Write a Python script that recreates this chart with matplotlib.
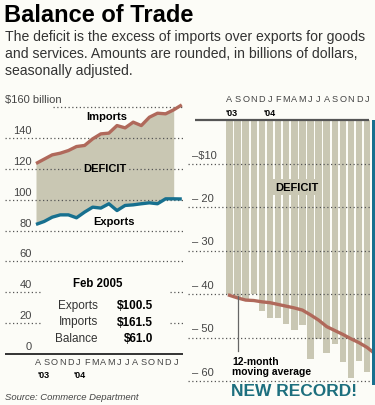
import matplotlib
matplotlib.use('Agg')
import matplotlib.pyplot as plt
from matplotlib.patches import Rectangle

plt.rcParams['font.family'] = ['Liberation Sans', 'DejaVu Sans']

# data, Aug 2003 .. Feb 2005 (billions of dollars)
months = list("ASONDJFMAMJJASONDJ")
imports = [123.5, 126.3, 129.1, 130.2, 131.9, 134.5, 135.2, 139.5, 142.7, 143.2,
           148.1, 146.6, 150.3, 148.1, 153.5, 156.1, 155.7, 158.3, 161.5]
exports = [84.0, 85.9, 88.7, 90.2, 90.2, 88.3, 92.0, 95.2, 94.6, 97.4,
           93.0, 96.3, 96.7, 97.4, 98.0, 97.4, 100.6, 100.6, 100.5]
deficit = [-40.0, -41.0, -41.5, -40.0, -43.8, -45.6, -45.6, -46.8, -48.2, -47.1,
           -54.9, -50.3, -53.6, -51.5, -55.7, -59.2, -55.5, -58.0, -61.0]
moving_avg = [-40.3, -40.9, -41.4, -41.5, -41.8, -42.0, -42.4, -42.8, -43.2, -43.7,
              -44.8, -46.0, -47.5, -48.4, -49.3, -50.3, -51.2, -52.3, -53.8]
left_ticks = [160, 140, 120, 100, 80, 60, 40, 20, 0]
right_ticks = [-10, -20, -30, -40, -50, -60]

W, H = 375, 406
BG = '#fcfcf7'
FILL = '#c9c7b3'
RED = '#b0695b'
TEAL = '#17708f'
GRID = '#555555'
DOT = (0, (1, 2))


def fx(px):
    return px / W


def fy(py):
    return 1 - py / H


fig = plt.figure(figsize=(W / 100, H / 100), dpi=100)
fig.patch.set_facecolor(BG)

# header
fig.text(fx(4), fy(15), "Balance of Trade", fontsize=17, fontweight='bold', va='center')
sub = ["The deficit is the excess of imports over exports for goods",
       "and services. Amounts are rounded, in billions of dollars,",
       "seasonally adjusted."]
for k, line in enumerate(sub):
    fig.text(fx(5), fy(37 + k * 17), line, fontsize=10.1, color='#333333', va='center')
fig.text(fx(5), fy(398), "Source: Commerce Department", fontsize=6.8,
         style='italic', color='#444444', va='center')

# ---- left chart: imports and exports ----
def lx(px):
    return (px - 36) / 8.1


def lv(py):
    return (355 - py) / 1.5425


ax = fig.add_axes([fx(0), fy(390), fx(190), fy(95) - fy(390)])
ax.set_xlim(lx(0), lx(190))
ax.set_ylim(lv(390), lv(95))
ax.axis('off')

n = len(imports)
xs = list(range(n))
ax.fill_between(xs[:18], exports[:18], imports[:18], color=FILL, lw=0, zorder=1)
for v in left_ticks[:-1]:
    x0 = lx(53) if v == 160 else lx(5)
    ax.hlines(v, x0, lx(183), colors=GRID, lw=0.9, linestyles=DOT, zorder=2)
ax.hlines(0, lx(5), lx(183), colors='#333333', lw=1.4, zorder=2)
ax.plot(xs, imports, color=RED, lw=2.4, zorder=4, solid_capstyle='butt')
ax.plot(xs, exports, color=TEAL, lw=2.4, zorder=4, solid_capstyle='butt')

for v in left_ticks:
    if v == 160:
        ax.text(lx(5), v + lv(0) - lv(8), "$160 billion", fontsize=8, color='#444444',
                ha='left', va='center', clip_on=False)
    else:
        ax.text(lx(32), v + lv(0) - lv(8), str(v), fontsize=8, color='#444444',
                ha='right', va='center', clip_on=False)

ax.text(lx(107), lv(117), "Imports", fontsize=8, fontweight='bold', ha='center', va='center', zorder=5)
ax.text(lx(105), lv(169), "DEFICIT", fontsize=8, fontweight='bold', ha='center', va='center',
        zorder=5, bbox=dict(facecolor=FILL, edgecolor='none', pad=1.5))
ax.text(lx(114), lv(222), "Exports", fontsize=8, fontweight='bold', ha='center', va='center', zorder=5)

# Feb 2005 box
ax.add_patch(Rectangle((lx(42), lv(349)), lx(170) - lx(42), lv(274) - lv(349),
                       facecolor=BG, edgecolor='none', zorder=3))
ax.text(lx(98), lv(284), "Feb 2005", fontsize=8.3, fontweight='bold', ha='center', va='center', zorder=5)
rows = [("Exports", exports[-1]), ("Imports", imports[-1]), ("Balance", imports[-1] - exports[-1])]
for k, (name, val) in enumerate(rows):
    yy = lv(306 + k * 16.5)
    ax.text(lx(98), yy, name, fontsize=8.5, color='#333333', ha='right', va='center', zorder=5)
    ax.text(lx(153), yy, f"${val:.1f}", fontsize=8.5, fontweight='bold', ha='right', va='center', zorder=5)

for i, m in enumerate(months):
    ax.text(i + 0.25, lv(363), m, fontsize=6.6, color='#444444', ha='center', va='center', clip_on=False)
ax.text(lx(38), lv(376), "'03", fontsize=6.5, fontweight='bold', ha='left', va='center')
ax.text(lx(73), lv(376), "'04", fontsize=6.5, fontweight='bold', ha='left', va='center')

# ---- right chart: monthly deficit ----
def rx(px):
    return (px - 229.5) / 8.1


def rv(py):
    return -(py - 121) / 4.35


ax2 = fig.add_axes([fx(185), fy(395), fx(375) - fx(185), fy(90) - fy(395)])
ax2.set_xlim(rx(185), rx(375))
ax2.set_ylim(rv(395), rv(90))
ax2.axis('off')

colors = [FILL] * (n - 1) + [TEAL]
ax2.bar(xs, deficit, width=0.8, color=colors, lw=0, zorder=1)
for v in right_ticks:
    ax2.hlines(v, rx(188), rx(375), colors=GRID, lw=0.9, linestyles=DOT, zorder=2)
ax2.hlines(0, rx(195), rx(369), colors='#555555', lw=1.6, zorder=3)
ax2.plot(xs, moving_avg, color=RED, lw=2.4, zorder=4)
# keep the record bar above the average line
ax2.bar(xs[-1], deficit[-1], width=0.8, color=TEAL, lw=0, zorder=5)

for v in right_ticks:
    lab = "\u2013$10" if v == -10 else f"\u2013 {-v}"
    ax2.text(rx(192), v + rv(121) - rv(130), lab, fontsize=8, color='#444444',
             ha='left', va='center', zorder=6)

for i, m in enumerate(months):
    ax2.text(i, rv(100), m, fontsize=6.6, color='#444444', ha='center', va='center')
ax2.text(rx(226), rv(113), "'03", fontsize=6.5, fontweight='bold', ha='left', va='center')
ax2.text(rx(264), rv(113), "'04", fontsize=6.5, fontweight='bold', ha='left', va='center')

ax2.text(rx(297), rv(188), "DEFICIT", fontsize=8, fontweight='bold', ha='center', va='center',
         zorder=6, bbox=dict(facecolor=FILL, edgecolor='none', pad=2))
ax2.plot([rx(238), rx(238)], [rv(297), rv(352)], color='#666666', lw=0.9, zorder=6)
ax2.text(rx(232), rv(357), "12-month\nmoving average", fontsize=7.5, fontweight='bold',
         ha='left', va='top', linespacing=1.05, zorder=6)
ax2.text(rx(294), rv(392), "NEW RECORD!", fontsize=12.5, fontweight='bold', color='#1d6f7e',
         ha='center', va='center', zorder=6, clip_on=False)

fig.savefig('out.png', dpi=100, facecolor=BG)
